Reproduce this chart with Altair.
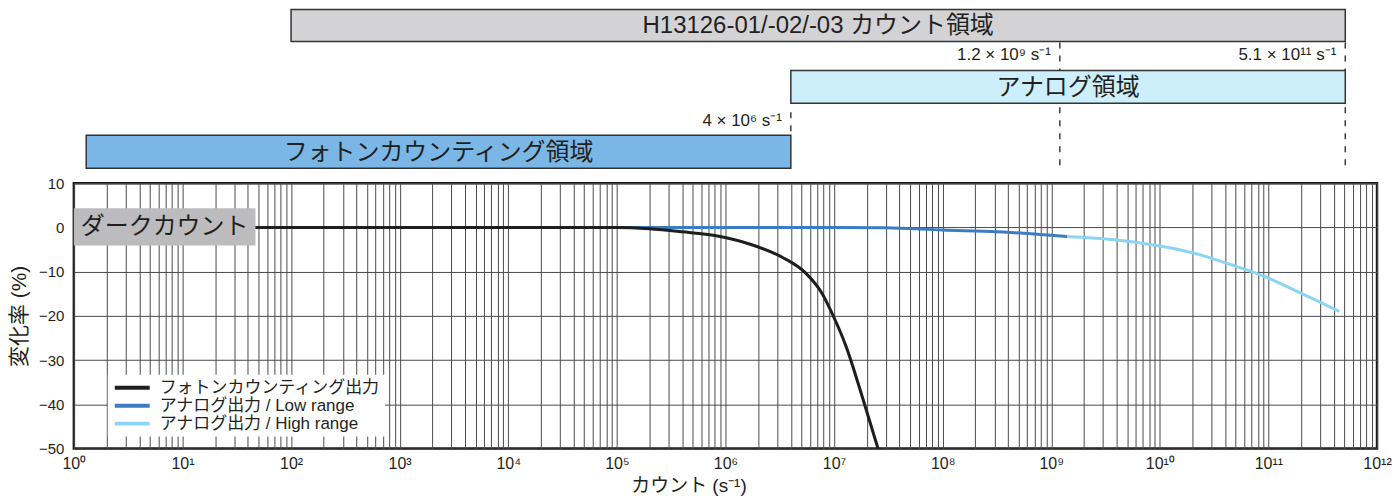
import json
import numpy as np
import pandas as pd
import altair as alt

FONT = "Liberation Sans, Noto Sans CJK JP"
TXT = "#231f20"

# ---------------- data ----------------
series_names = ["フォトンカウンティング出力", "アナログ出力 / Low range", "アナログ出力 / High range"]
series_colors = ["#1e1e1e", "#3b7cc5", "#8dd4f4"]

pc_x = [1, 10, 100, 1e3, 1e4, 1e5, 2e5, 4.0e5, 8.2e5, 1.66e6, 3.33e6, 5.52e6, 7.74e6, 9.57e6, 1.29e7, 1.81e7, 2.54e7]
pc_y = [0, 0, 0, 0, 0, 0, -0.3, -1.0, -1.9, -3.75, -6.75, -10.4, -14.9, -19.4, -26.9, -38.1, -50]

low_x = [1e5, 1e6, 1e7, 3e7, 1e8, 3.2e8, 8e8, 1.4e9]
low_y = [0, 0, 0, -0.1, -0.6, -1.0, -1.6, -2.05]

high_x = [1.4e9, 3.86e9, 9.6e9, 1.95e10, 4.54e10, 9.2e10, 1.86e11, 4.5e11]
high_y = [-2.05, -2.8, -4.15, -5.66, -8.45, -11.1, -14.5, -19.0]

region_names = ["H13126-01/-02/-03 カウント領域", "アナログ領域", "フォトンカウンティング領域"]
region_start = [1e2, 4e6, 1.3]
region_end = [5.1e11, 5.1e11, 4e6]
region_fills = ["#d3d3d5", "#cdeefb", "#7ab7e6"]

threshold_values = [1.2e9, 5.1e11, 4e6]
threshold_labels = ["1.2 × 10⁹ s⁻¹", "5.1 × 10¹¹ s⁻¹", "4 × 10⁶ s⁻¹"]

dark_label = "ダークカウント"
dark_span_x = [1, 47]
dark_span_y = [4.3, -4.1]

x_tick_values = [m * 10 ** e for e in range(0, 12) for m in range(1, 10)] + [10 ** 12]
x_tick_labels = ["10⁰", "10¹", "10²", "10³", "10⁴", "10⁵", "10⁶", "10⁷", "10⁸", "10⁹",
                 "10¹⁰", "10¹¹", "10¹²"]
y_tick_values = [10, 0, -10, -20, -30, -40, -50]

# ---------------- layout (pixels relative to plot top) ----------------
region_y = [(-174, -142), (-113, -80), (-48, -15)]
threshold_y = [(-141, -15), (-141, -15), (-71, -48)]
threshold_label_y = [-128, -128, -62]

W, H = 1306, 266

XS = alt.Scale(type="log", domain=[1, 1e12], nice=False)
YS = alt.Scale(domain=[-50, 10], nice=False, zero=False)

label_expr = ("abs(datum.value - pow(10, round(log(datum.value)/LN10))) < 0.5 ? "
              + json.dumps(x_tick_labels, ensure_ascii=False)
              + "[round(log(datum.value)/LN10)] : ''")

XAXIS = alt.Axis(values=x_tick_values, labelExpr=label_expr, labelOverlap=False, labelFlush=False,
                 grid=True, gridColor="#4a4a4a", gridWidth=1, gridOpacity=1, ticks=False, domain=False,
                 labelFont=FONT, labelFontSize=16, labelColor=TXT, labelPadding=7,
                 title="カウント (s⁻¹)", titleFont=FONT, titleFontSize=19, titleFontWeight="normal",
                 titleColor=TXT, titleX=616, titlePadding=5)
YAXIS = alt.Axis(values=y_tick_values, labelFlush=False, labelOverlap=False,
                 grid=True, gridColor="#4a4a4a", gridWidth=1, gridOpacity=1, ticks=False, domain=False,
                 labelFont=FONT, labelFontSize=15, labelColor=TXT, labelPadding=10,
                 title="変化率 (%)", titleFont=FONT, titleFontSize=21, titleFontWeight="normal",
                 titleColor=TXT, titlePadding=9)

LEGEND = alt.Legend(title=None, orient="none", legendX=34, legendY=192, fillColor="white",
                    symbolType="stroke", symbolStrokeWidth=4, symbolSize=1225, clipHeight=16,
                    labelFont=FONT, labelFontSize=17, labelColor=TXT, labelOffset=8, labelLimit=600,
                    padding=5, rowPadding=1)
CS = alt.Scale(domain=series_names, range=series_colors)


def xenc(field="x"):
    return alt.X(f"{field}:Q", scale=XS, axis=XAXIS)


def yenc(field="y"):
    return alt.Y(f"{field}:Q", scale=YS, axis=YAXIS)


layers = []

# dashed threshold lines
for i, v in enumerate(threshold_values):
    d = pd.DataFrame({"x": [v]})
    layers.append(alt.Chart(d).mark_rule(color="#3c3c3c", strokeWidth=1.5, strokeDash=[6, 7]).encode(
        x=xenc(), y=alt.value(threshold_y[i][0]), y2=alt.value(threshold_y[i][1])))

# region bars and their labels
for i, name in enumerate(region_names):
    d = pd.DataFrame({"x": [region_start[i]], "x2": [region_end[i]], "name": [name],
                      "xc": [float(np.sqrt(region_start[i] * region_end[i]))]})
    layers.append(alt.Chart(d).mark_rect(fill=region_fills[i], stroke="#333333", strokeWidth=1.5).encode(
        x=xenc(), x2="x2:Q", y=alt.value(region_y[i][0]), y2=alt.value(region_y[i][1])))
    layers.append(alt.Chart(d).mark_text(font=FONT, fontSize=24, color=TXT, baseline="middle").encode(
        x=xenc("xc"), y=alt.value((region_y[i][0] + region_y[i][1]) / 2 + 1), text="name:N"))

# threshold labels
for i, lab in enumerate(threshold_labels):
    d = pd.DataFrame({"x": [threshold_values[i]], "t": [lab]})
    layers.append(alt.Chart(d).mark_text(font=FONT, fontSize=17, color=TXT, align="right",
                                         baseline="middle", dx=-9).encode(
        x=xenc(), y=alt.value(threshold_label_y[i]), text="t:N"))

# dark count box
dd = pd.DataFrame({"x": [dark_span_x[0]], "x2": [dark_span_x[1]], "y": [dark_span_y[0]],
                   "y2": [dark_span_y[1]], "t": [dark_label],
                   "xc": [float(np.sqrt(dark_span_x[0] * dark_span_x[1]))], "yc": [0]})


# series
def series_df(xs, ys, name):
    return pd.DataFrame({"x": xs, "y": ys, "series": name, "o": list(range(len(xs)))})


for xs, ys, k in [(low_x, low_y, 1), (high_x, high_y, 2), (pc_x, pc_y, 0)]:
    layers.append(alt.Chart(series_df(xs, ys, series_names[k])).mark_line(
        strokeWidth=3, interpolate="monotone").encode(
        x=xenc(), y=yenc(), order="o:Q",
        color=alt.Color("series:N", scale=CS, legend=LEGEND)))

layers.append(alt.Chart(dd).mark_rect(fill="#bcbcbe").encode(x=xenc(), x2="x2:Q", y=yenc(), y2="y2:Q"))
layers.append(alt.Chart(dd).mark_text(font=FONT, fontSize=24, color=TXT, baseline="middle").encode(
    x=xenc("xc"), y=yenc("yc"), text="t:N"))

chart = alt.layer(*layers).properties(
    width=W, height=H, padding={"left": 0, "top": 0, "right": 0, "bottom": 0}
).configure_view(stroke="#1a1a1a", strokeWidth=2.5).configure_axis(
    labelFont=FONT, titleFont=FONT)

chart.save("out.html", embed_options={"renderer": "svg", "actions": False})
